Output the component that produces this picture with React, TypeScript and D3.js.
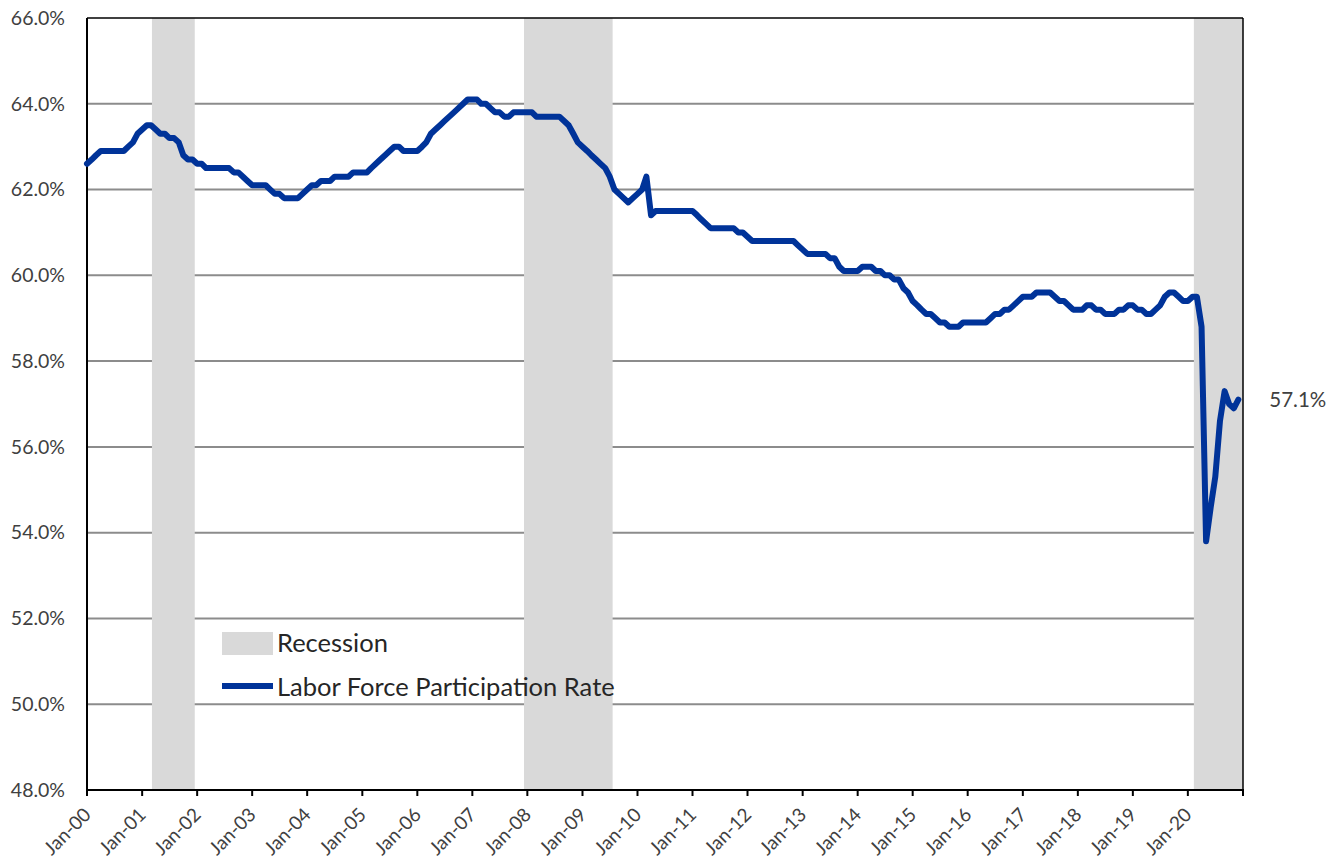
import React from "react";
import * as d3 from "d3";

// monthly rate, Jan 2000 .. Dec 2020 (one row per year)
const rate2000s = [
  62.6, 62.7, 62.8, 62.9, 62.9, 62.9, 62.9, 62.9, 62.9, 63.0, 63.1, 63.3,
  63.4, 63.5, 63.5, 63.4, 63.3, 63.3, 63.2, 63.2, 63.1, 62.8, 62.7, 62.7,
  62.6, 62.6, 62.5, 62.5, 62.5, 62.5, 62.5, 62.5, 62.4, 62.4, 62.3, 62.2,
  62.1, 62.1, 62.1, 62.1, 62.0, 61.9, 61.9, 61.8, 61.8, 61.8, 61.8, 61.9,
  62.0, 62.1, 62.1, 62.2, 62.2, 62.2, 62.3, 62.3, 62.3, 62.3, 62.4, 62.4,
  62.4, 62.4, 62.5, 62.6, 62.7, 62.8, 62.9, 63.0, 63.0, 62.9, 62.9, 62.9,
  62.9, 63.0, 63.1, 63.3, 63.4, 63.5, 63.6, 63.7, 63.8, 63.9, 64.0, 64.1,
  64.1, 64.1, 64.0, 64.0, 63.9, 63.8, 63.8, 63.7, 63.7, 63.8, 63.8, 63.8,
  63.8, 63.8, 63.7, 63.7, 63.7, 63.7, 63.7, 63.7, 63.6, 63.5, 63.3, 63.1,
  63.0, 62.9, 62.8, 62.7, 62.6, 62.5, 62.3, 62.0, 61.9, 61.8, 61.7, 61.8,
];
const rate2010s = [
  61.9, 62.0, 62.3, 61.4, 61.5, 61.5, 61.5, 61.5, 61.5, 61.5, 61.5, 61.5,
  61.5, 61.4, 61.3, 61.2, 61.1, 61.1, 61.1, 61.1, 61.1, 61.1, 61.0, 61.0,
  60.9, 60.8, 60.8, 60.8, 60.8, 60.8, 60.8, 60.8, 60.8, 60.8, 60.8, 60.7,
  60.6, 60.5, 60.5, 60.5, 60.5, 60.5, 60.4, 60.4, 60.2, 60.1, 60.1, 60.1,
  60.1, 60.2, 60.2, 60.2, 60.1, 60.1, 60.0, 60.0, 59.9, 59.9, 59.7, 59.6,
  59.4, 59.3, 59.2, 59.1, 59.1, 59.0, 58.9, 58.9, 58.8, 58.8, 58.8, 58.9,
  58.9, 58.9, 58.9, 58.9, 58.9, 59.0, 59.1, 59.1, 59.2, 59.2, 59.3, 59.4,
  59.5, 59.5, 59.5, 59.6, 59.6, 59.6, 59.6, 59.5, 59.4, 59.4, 59.3, 59.2,
  59.2, 59.2, 59.3, 59.3, 59.2, 59.2, 59.1, 59.1, 59.1, 59.2, 59.2, 59.3,
  59.3, 59.2, 59.2, 59.1, 59.1, 59.2, 59.3, 59.5, 59.6, 59.6, 59.5, 59.4,
];
const rate2020 = [59.4, 59.5, 59.5, 58.8, 53.8, 54.6, 55.3, 56.6, 57.3, 57.0, 56.9, 57.1];

const recessions = [
  ["2001-03-07", "2001-12-16"],
  ["2007-12-10", "2009-07-20"],
  ["2020-02-10", "2021-01-01"],
];

const yTicks = [48, 50, 52, 54, 56, 58, 60, 62, 64, 66];

const values = [...rate2000s, ...rate2010s, ...rate2020];
const series = values.map((v, i) => ({ date: new Date(2000, i, 1), value: v }));

const W = 1326;
const H = 860;
const left = 87;
const right = 1243;
const top = 18;
const bottom = 790;
const FONT = "Lato, 'Open Sans', sans-serif";
const BLUE = "#003399";

export default function App() {
  const x = d3
    .scaleTime()
    .domain([new Date(2000, 0, 1), new Date(2021, 0, 1)])
    .range([left, right]);
  const y = d3.scaleLinear().domain([48, 66]).range([bottom, top]);

  const line = d3
    .line<{ date: Date; value: number }>()
    .x((d) => x(d.date))
    .y((d) => y(d.value));

  // labelled ticks Jan-00 .. Jan-20, plus an unlabelled one at the right edge
  const xTicks = d3.timeYear.range(new Date(2000, 0, 1), new Date(2020, 0, 2));
  const fmt = d3.timeFormat("%b-%y");
  const last = series[series.length - 1];

  return (
    <svg
      width={W}
      height={H}
      style={{ position: "absolute", left: 0, top: 0, background: "#fff" }}
      fontFamily={FONT}
    >
      {/* gridlines */}
      {yTicks.slice(1, -1).map((t) => (
        <line key={t} x1={left} x2={right} y1={y(t)} y2={y(t)} stroke="#8c8c8c" strokeWidth={2} />
      ))}

      {/* recession bands */}
      {recessions.map(([a, b]) => (
        <rect
          key={a}
          x={x(new Date(a))}
          y={top}
          width={x(new Date(b)) - x(new Date(a))}
          height={bottom - top}
          fill="#d9d9d9"
        />
      ))}

      {/* frame */}
      <line x1={left} x2={right} y1={top} y2={top} stroke="#000" strokeWidth={1.5} />
      <line x1={right} x2={right} y1={top} y2={bottom} stroke="#000" strokeWidth={1.5} />
      <line x1={left} x2={left} y1={top} y2={bottom} stroke="#000" strokeWidth={2} />
      <line x1={left - 1} x2={right + 1} y1={bottom} y2={bottom} stroke="#000" strokeWidth={2} />

      {/* y labels */}
      {yTicks.map((t) => (
        <text
          key={t}
          x={65}
          y={y(t)}
          dy="0.35em"
          textAnchor="end"
          fontSize={19.5}
          fill="#404040"
        >
          {t.toFixed(1) + "%"}
        </text>
      ))}

      {/* x ticks and labels */}
      {[...xTicks, new Date(2021, 0, 1)].map((d) => (
        <line
          key={"t" + d.getTime()}
          x1={x(d)}
          x2={x(d)}
          y1={bottom}
          y2={bottom + 6}
          stroke="#000"
          strokeWidth={2}
        />
      ))}
      {xTicks.map((d) => (
        <text
          key={"l" + d.getTime()}
          transform={`translate(${x(d) + 5},${bottom + 26}) rotate(-45)`}
          textAnchor="end"
          fontSize={19}
          fill="#404040"
        >
          {fmt(d)}
        </text>
      ))}

      {/* series */}
      <path
        d={line(series) || ""}
        fill="none"
        stroke={BLUE}
        strokeWidth={6}
        strokeLinejoin="round"
        strokeLinecap="round"
      />

      <text x={x(last.date) + 31} y={y(last.value)} dy="0.35em" fontSize={20.5} fill="#404040">
        {last.value.toFixed(1) + "%"}
      </text>

      {/* legend */}
      <rect x={222} y={632} width={51} height={23} fill="#d9d9d9" />
      <text x={277} y={643} dy="0.35em" fontSize={25.5} fill="#262626">
        Recession
      </text>
      <line x1={222} x2={273} y1={686} y2={686} stroke={BLUE} strokeWidth={6} />
      <text x={277} y={687} dy="0.35em" fontSize={25.5} fill="#262626">
        Labor Force Participation Rate
      </text>
    </svg>
  );
}
